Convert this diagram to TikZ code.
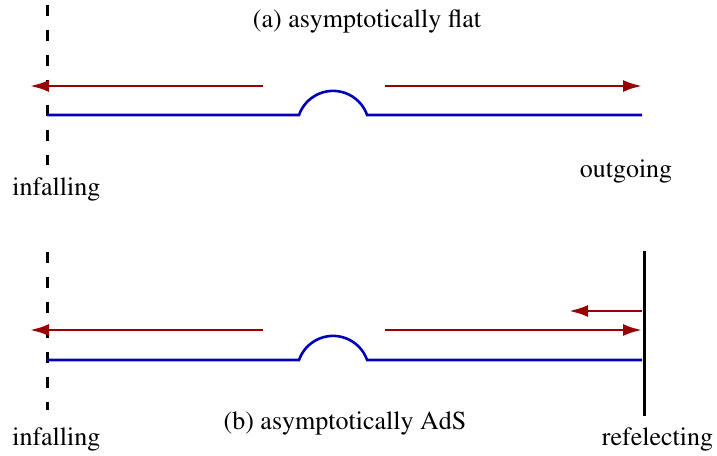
\documentclass[tikz,border=0pt]{standalone}
\usepackage[T1]{fontenc}
\usepackage{mathptmx}
\usepackage{xcolor}
\usepackage{tikz}
\usetikzlibrary{arrows.meta, positioning}
\definecolor{raydark}{RGB}{150,0,0}
\definecolor{stringblue}{RGB}{0,0,185}
\tikzstyle{ray} = [raydark, line width=1.3pt, -{Latex[length=9.5pt,width=6pt]}]
\tikzstyle{brane} = [stringblue, line width=1.3pt]
\tikzstyle{horizon} = [black, line width=1.5pt, dash pattern=on 5.5pt off 7pt]
\tikzstyle{wall} = [black, line width=1.5pt]
\tikzstyle{txt} = [font=\fontsize{13}{15}\selectfont, inner sep=0pt, anchor=base]

\begin{document}
\begin{tikzpicture}[x=0.5pt, y=-0.5pt]
\useasboundingbox (0,0) rectangle (717,455);

% (a) Asymptotically flat
\coordinate (aHtop) at (47,5);
\coordinate (aHbot) at (47,165);
\coordinate (aL) at (47,115);
\coordinate (aBump) at (299,115);
\coordinate (aR) at (642,115);
\coordinate (aInStart) at (263,86);
\coordinate (aInEnd) at (30,86);
\coordinate (aOutStart) at (385,86);
\coordinate (aOutEnd) at (642,86);

\draw [horizon] (aHtop) -- (aHbot);
\draw [brane] (aL) -- (aBump) arc[start angle=160.6, end angle=19.4, radius=18.05pt] -- (aR);
\draw [ray] (aInStart) -- (aInEnd);
\draw [ray] (aOutStart) -- (aOutEnd);

\node (atitle) [txt] at (367,27) {(a) asymptotically flat};
\node (ainfall) [txt, anchor=base west] at (12,195) {infalling};
\node (aout) [txt] at (626,177) {outgoing};

% (b) Asymptotically AdS
\coordinate (bHtop) at (47,252);
\coordinate (bHbot) at (47,410);
\coordinate (bWtop) at (644,251);
\coordinate (bWbot) at (644,416);
\coordinate (bL) at (47,360);
\coordinate (bBump) at (299,360);
\coordinate (bR) at (642,360);
\coordinate (bInStart) at (263,330);
\coordinate (bInEnd) at (30,330);
\coordinate (bOutStart) at (385,330);
\coordinate (bOutEnd) at (642,330);
\coordinate (bBackStart) at (642,311);
\coordinate (bBackEnd) at (569,311);

\draw [horizon] (bHtop) -- (bHbot);
\draw [wall] (bWtop) -- (bWbot);
\draw [brane] (bL) -- (bBump) arc[start angle=160.6, end angle=19.4, radius=18.05pt] -- (bR);
\draw [ray] (bInStart) -- (bInEnd);
\draw [ray] (bOutStart) -- (bOutEnd);
\draw [ray] (bBackStart) -- (bBackEnd);

\node (btitle) [txt] at (345,429) {(b) asymptotically AdS};
\node (binfall) [txt, anchor=base west] at (12,445) {infalling};
\node (brefl) [txt] at (657.5,445) {refelecting};

\end{tikzpicture}
\end{document}
